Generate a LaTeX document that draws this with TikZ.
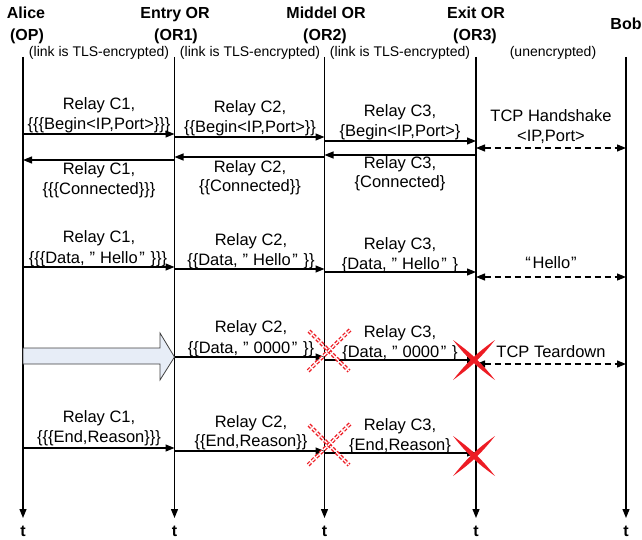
\documentclass[tikz,border=0pt]{standalone}
\usepackage{fontspec}
\setmainfont{Liberation Sans}
\usetikzlibrary{arrows.meta}
\definecolor{hollowfill}{RGB}{231,237,247}
\definecolor{xred}{RGB}{237,28,36}
\newcommand\qd[1]{#1,\hspace{0.3em}”\hspace{0.3em}}
\begin{document}
\begin{tikzpicture}[x=1pt,y=-1pt,
  lab/.style={font=\fontsize{16.5}{19}\selectfont, inner sep=0pt, anchor=base},
  small/.style={font=\fontsize{14}{16}\selectfont, inner sep=0pt, anchor=base},
  head/.style={font=\fontsize{16}{19}\selectfont\bfseries, inner sep=0pt, anchor=base},
  tip/.style={-{Triangle[length=9pt,width=7pt]}},
  life/.style={line width=1.2pt, tip},
  msg/.style={line width=1.2pt, tip},
  dmsg/.style={line width=1.2pt, dash pattern=on 6pt off 4pt, {Triangle[length=9pt,width=7pt]}-{Triangle[length=9pt,width=7pt]}},
  dashx/.style={xred, line width=1.3pt, double=white, double distance=1.3pt, dash pattern=on 3.5pt off 2pt},
  solidx/.pic={
    \fill[xred] (-21,-20) to[bend left=8] (21,20) to[bend left=8] (-21,-20);
    \fill[xred] (21,-20) to[bend left=8] (-21,20) to[bend left=8] (21,-20);
  },
  dashedx/.pic={
    \draw[dashx] (-20,-20) -- (20,20);
    \draw[dashx] (21,-21) -- (-21,20);
  }
  ]
\useasboundingbox (0,0) rectangle (642,540);
% lifeline coordinates
\coordinate (At) at (23,57);   \coordinate (Ab) at (23,518);
\coordinate (Bt) at (174.5,57); \coordinate (Bb) at (174.5,518);
\coordinate (Ct) at (324.5,57); \coordinate (Cb) at (324.5,518);
\coordinate (Dt) at (476,57);  \coordinate (Db) at (476,518);
\coordinate (Et) at (626,57);  \coordinate (Eb) at (626,518);
\foreach \L in {A,B,C,D,E} {\draw[life] (\L t) -- (\L b);}
% headers
\node[head] (hA1) at (26,19) {Alice};
\node[head] (hA2) at (27,41) {(OP)};
\node[head] (hB1) at (175,19) {Entry OR};
\node[head] (hB2) at (176,41) {(OR1)};
\node[head] (hC1) at (326,19) {Middel OR};
\node[head] (hC2) at (325,41) {(OR2)};
\node[head] (hD1) at (476,19) {Exit OR};
\node[head] (hD2) at (475,41) {(OR3)};
\node[head] (hE) at (626,30) {Bob};
\node[small] (tl1) at (99,57) {(link is TLS-encrypted)};
\node[small] (tl2) at (250,57) {(link is TLS-encrypted)};
\node[small] (tl3) at (400,57) {(link is TLS-encrypted)};
\node[small] (tl4) at (553,57) {(unencrypted)};
% bottom t labels
\node[head] (tA) at (23,536) {t};
\node[head] (tB) at (174.5,536) {t};
\node[head] (tC) at (324.5,536) {t};
\node[head] (tD) at (476,536) {t};
\node[head] (tE) at (626,536) {t};
% row 1: begin
\draw[msg] (At |- 0,134) -- (Bt |- 0,134);
\draw[msg] (Bt |- 0,137) -- (Ct |- 0,137);
\draw[msg] (Ct |- 0,141) -- (Dt |- 0,141);
\draw[dmsg] (Dt |- 0,148) -- (Et |- 0,148);
\node[lab] (n1a) at (99,110) {Relay C1,};
\node[lab] (n1b) at (99,130) {\{\{\{Begin<IP,Port>\}\}\}};
\node[lab] (n2a) at (250,113) {Relay C2,};
\node[lab] (n2b) at (250,133) {\{\{Begin<IP,Port>\}\}};
\node[lab] (n3a) at (400,117) {Relay C3,};
\node[lab] (n3b) at (400,137) {\{Begin<IP,Port>\}};
\node[lab] (n4a) at (551,122) {TCP Handshake};
\node[lab] (n4b) at (551,142) {<IP,Port>};
% return: connected
\draw[msg] (Dt |- 0,155) -- (Ct |- 0,155);
\draw[msg] (Ct |- 0,157) -- (Bt |- 0,157);
\draw[msg] (Bt |- 0,160) -- (At |- 0,160);
\node[lab] (r1a) at (99,175) {Relay C1,};
\node[lab] (r1b) at (99,194) {\{\{\{Connected\}\}\}};
\node[lab] (r2a) at (250,173) {Relay C2,};
\node[lab] (r2b) at (250,191) {\{\{Connected\}\}};
\node[lab] (r3a) at (400,169) {Relay C3,};
\node[lab] (r3b) at (400,187) {\{Connected\}};
% hello
\draw[msg] (At |- 0,267) -- (Bt |- 0,267);
\draw[msg] (Bt |- 0,269) -- (Ct |- 0,269);
\draw[msg] (Ct |- 0,272) -- (Dt |- 0,272);
\draw[dmsg] (Dt |- 0,277) -- (Et |- 0,277);
\node[lab] (h1a) at (99,242) {Relay C1,};
\node[lab] (h1b) at (98,263) {\{\{\{\qd{Data}Hello\hspace{0.1em}”\hspace{0.35em}\}\}\}};
\node[lab] (h2a) at (251,245) {Relay C2,};
\node[lab] (h2b) at (251,265) {\{\{\qd{Data}Hello\hspace{0.1em}”\hspace{0.35em}\}\}};
\node[lab] (h3a) at (400,249) {Relay C3,};
\node[lab] (h3b) at (400,269) {\{\qd{Data}Hello\hspace{0.1em}”\hspace{0.35em}\}};
\node[lab] (h4) at (551,268) {“\hspace{0.1em}Hello\hspace{0.05em}”};
% 0000
\draw[fill=hollowfill, draw=black!75, line width=0.8pt]
  (23,348) -- (160,348) -- (160,333) -- (174.5,357) -- (160,380) -- (160,364) -- (23,364) -- cycle;
\draw[msg] (Bt |- 0,357) -- (Ct |- 0,357);
\draw[msg] (Ct |- 0,360) -- (Dt |- 0,360);
\draw[dmsg] (Dt |- 0,364) -- (Et |- 0,364);
\node[lab] (z2a) at (251,332) {Relay C2,};
\node[lab] (z2b) at (251,353) {\{\{\qd{Data}0000\hspace{0.1em}”\hspace{0.35em}\}\}};
\node[lab] (z3a) at (400,337) {Relay C3,};
\node[lab] (z3b) at (400,357) {\{\qd{Data}0000\hspace{0.1em}”\hspace{0.35em}\}};
\node[lab] (z4) at (551,357) {TCP Teardown};
\pic at (329,351) {dashedx};
\pic at (474,360) {solidx};
% end
\draw[msg] (At |- 0,448) -- (Bt |- 0,448);
\draw[msg] (Bt |- 0,451) -- (Ct |- 0,451);
\draw[msg] (Ct |- 0,453) -- (Dt |- 0,453);
\node[lab] (e1a) at (99,422) {Relay C1,};
\node[lab] (e1b) at (99,442) {\{\{\{End,Reason\}\}\}};
\node[lab] (e2a) at (251,427) {Relay C2,};
\node[lab] (e2b) at (251,446) {\{\{End,Reason\}\}};
\node[lab] (e3a) at (400,430) {Relay C3,};
\node[lab] (e3b) at (400,450) {\{End,Reason\}};
\pic at (329,445) {dashedx};
\pic at (474,456) {solidx};
\end{tikzpicture}
\end{document}
